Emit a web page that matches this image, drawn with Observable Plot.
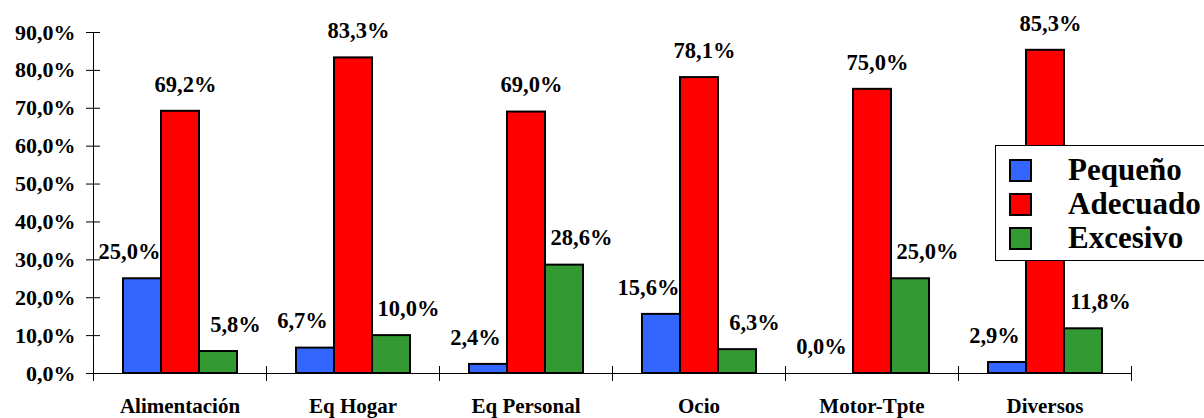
<!DOCTYPE html>
<html>
<head>
<meta charset="utf-8">
<script src="https://cdn.jsdelivr.net/npm/d3@7"></script>
<script src="https://cdn.jsdelivr.net/npm/@observablehq/plot@0.6"></script>
<style>
html, body { margin: 0; padding: 0; background: #fff; overflow: hidden; }
#wrap { position: relative; width: 1204px; height: 418px; }
#legend {
  position: absolute; left: 995px; top: 145px; width: 240px; height: 116px;
  background: #fff; border: 1px solid #000; box-sizing: border-box;
  font-family: 'Liberation Serif', 'Times New Roman', serif; font-weight: bold; font-size: 31px;
  padding-top: 7px; color: #000;
}
.row { display: flex; align-items: center; height: 34px; white-space: nowrap; }
.sw { width: 19px; height: 19px; border: 2px solid #000; margin-left: 13px; margin-right: 36px; flex: none; }
</style>
</head>
<body>
<div id="wrap"><div id="chart"></div><div id="legend"></div></div>
<script>
const categories = ["Alimentación", "Eq Hogar", "Eq Personal", "Ocio", "Motor-Tpte", "Diversos"];
const seriesNames = ["Pequeño", "Adecuado", "Excesivo"];
const pequeno  = [25.0, 6.7, 2.4, 15.6, 0.0, 2.9];
const adecuado = [69.2, 83.3, 69.0, 78.1, 75.0, 85.3];
const excesivo = [5.8, 10.0, 28.6, 6.3, 25.0, 11.8];
const yTicks = [0, 10, 20, 30, 40, 50, 60, 70, 80, 90];
const colors = ["#3366FF", "#FF0000", "#339933"];

const seriesValues = [pequeno, adecuado, excesivo];
const rows = categories.flatMap((c, i) =>
  seriesNames.map((s, j) => ({category: c, series: s, value: seriesValues[j][i]})));
const fmt = v => v.toFixed(1).replace(".", ",") + "%";
const font = "Liberation Serif, Times New Roman, serif";
const labelDx = {"Pequeño": -13, "Adecuado": 5, "Excesivo": 17};

const W = 1204, H = 418, mt = 32, mb = 45, ml = 92, mr = 72;
const plotH = H - mt - mb;

const chart = Plot.plot({
  width: W, height: H,
  marginLeft: ml, marginRight: mr, marginTop: mt, marginBottom: mb,
  style: {fontFamily: font, fontWeight: "bold", background: "transparent", color: "#000"},
  fx: {domain: categories, padding: 0, label: null},
  x: {domain: seriesNames, paddingInner: 0, paddingOuter: 0.722, axis: null},
  y: {domain: [0, 90], axis: null, label: null},
  color: {domain: seriesNames, range: colors},
  marks: [
    Plot.ruleY([0], {stroke: "#000", strokeWidth: 1}),
    Plot.frame({anchor: "left", facet: "super", stroke: "#000"}),
    Plot.frame({anchor: "left", insetTop: plotH - 7, insetBottom: -7, stroke: "#000"}),
    Plot.frame({anchor: "right", insetTop: plotH - 7, insetBottom: -7, stroke: "#000"}),
    Plot.barY(rows.filter(d => d.value > 0), {
      fx: "category", x: "series", y: "value", fill: "series",
      stroke: "#000", strokeWidth: 2
    }),
    ...seriesNames.map(s => Plot.text(rows.filter(d => d.series === s), {
      fx: "category", x: "series", y: "value", text: d => fmt(d.value),
      dy: -27, dx: labelDx[s], fontSize: 22.5, fontWeight: "bold", fill: "#000"
    })),
    Plot.axisY({ticks: yTicks, tickFormat: fmt, tickSize: 14, dx: 7, tickPadding: 11,
      fontSize: 22, fontWeight: "bold", label: null, stroke: "#000"}),
    Plot.axisFx({anchor: "bottom", tickSize: 0, tickPadding: 25, fontSize: 21,
      fontWeight: "bold", label: null})
  ]
});
document.getElementById("chart").appendChild(chart);

const legend = document.getElementById("legend");
seriesNames.forEach((s, i) => {
  const row = document.createElement("div");
  row.className = "row";
  const sw = document.createElement("span");
  sw.className = "sw";
  sw.style.background = colors[i];
  const t = document.createElement("span");
  t.textContent = s;
  row.appendChild(sw);
  row.appendChild(t);
  legend.appendChild(row);
});
</script>
</body>
</html>
